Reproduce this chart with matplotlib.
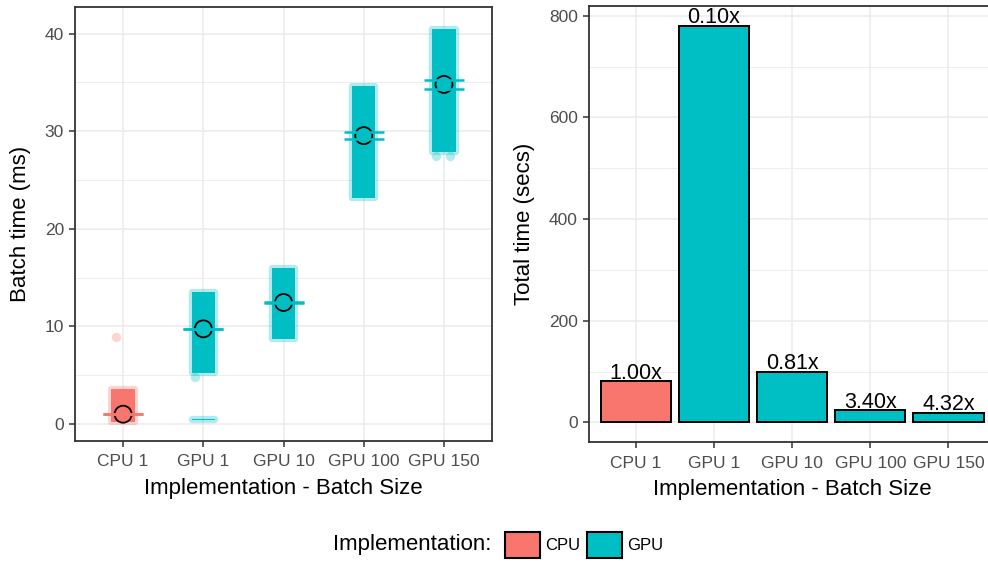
import matplotlib
matplotlib.use("Agg")
import matplotlib.pyplot as plt
from matplotlib.colors import to_rgba
from matplotlib.patches import Patch
from matplotlib.ticker import MultipleLocator

plt.rcParams["font.family"] = ["Liberation Sans", "DejaVu Sans"]

groups = ["CPU 1", "GPU 1", "GPU 10", "GPU 100", "GPU 150"]
impl = ["CPU", "GPU", "GPU", "GPU", "GPU"]

# batch times (ms): dense range of the per-batch measurements
band_group = ["CPU 1", "GPU 1", "GPU 1", "GPU 10", "GPU 100", "GPU 150"]
band_low = [0.15, 0.45, 5.2, 8.7, 23.2, 27.9]
band_high = [3.6, 0.55, 13.5, 16.0, 34.6, 40.5]

# isolated batches outside the dense ranges
stray_group = ["CPU 1", "GPU 1", "GPU 150", "GPU 150"]
stray_y = [8.9, 4.85, 27.5, 27.5]
stray_jitter = [-0.09, -0.11, -0.1, 0.08]

# mean batch time and its confidence interval
mean_ms = [1.0, 9.75, 12.45, 29.55, 34.8]
ci_low = [0.97, 9.72, 12.42, 29.2, 34.35]
ci_high = [1.03, 9.78, 12.48, 29.9, 35.2]

# total run time (secs)
total_secs = [80.6, 780, 99.5, 23.7, 18.65]

colors = {"CPU": "#F8766D", "GPU": "#00BFC4"}
border = "#333333"
gridc = "#EBEBEB"


def style_axes(ax):
    for s in ax.spines.values():
        s.set_color(border)
        s.set_linewidth(1.3)
    ax.set_facecolor("white")
    ax.grid(which="major", color=gridc, linewidth=1.1)
    ax.grid(which="minor", axis="y", color=gridc, linewidth=0.6)
    ax.set_axisbelow(True)
    ax.tick_params(which="major", length=4, width=1.1, color=border,
                   labelsize=12.5, labelcolor="#4D4D4D", pad=4)
    ax.tick_params(axis="x", pad=6)
    ax.tick_params(which="minor", length=0)
    ax.set_xticks(range(len(groups)))
    ax.set_xticklabels(groups)
    ax.set_xlim(-0.6, 4.6)
    ax.set_xlabel("Implementation - Batch Size", fontsize=16, labelpad=6)


fig = plt.figure(figsize=(9.88, 5.63), dpi=100)
ax1 = fig.add_axes([0.0759, 0.2175, 0.4222, 0.7695])
ax2 = fig.add_axes([0.596, 0.2145, 0.4115, 0.7745])

# left: batch times
pos = {g: i for i, g in enumerate(groups)}
for g, lo, hi in zip(band_group, band_low, band_high):
    c = colors[impl[pos[g]]]
    ax1.bar(pos[g], hi - lo, bottom=lo, width=0.29, color=c,
            edgecolor=to_rgba(c, 0.3), linewidth=4.5, joinstyle="round",
            zorder=2)
for g, y, j in zip(stray_group, stray_y, stray_jitter):
    c = colors[impl[pos[g]]]
    ax1.scatter(pos[g] + j, y, s=45, color=c, alpha=0.3, linewidths=0,
                zorder=2)

xs = list(range(len(groups)))
ax1.scatter(xs, mean_ms, s=150, facecolors="none", edgecolors="black",
            linewidths=1.3, zorder=3)
for x, lo, hi, k in zip(xs, ci_low, ci_high, impl):
    ax1.hlines([lo, hi], x - 0.25, x + 0.25, color=colors[k],
               linewidth=1.8, zorder=4)

style_axes(ax1)
ax1.set_ylim(-1.7, 42.7)
ax1.yaxis.set_major_locator(MultipleLocator(10))
ax1.yaxis.set_minor_locator(MultipleLocator(5))
ax1.set_ylabel("Batch time (ms)", fontsize=16, labelpad=10)

# right: total time with speed-up relative to CPU
ax2.bar(xs, total_secs, width=0.9, color=[colors[k] for k in impl],
        edgecolor="black", linewidth=1.4, zorder=2)
for x, v in zip(xs, total_secs):
    ax2.annotate(f"{total_secs[0] / v:.2f}x", (x, v), xytext=(0, 2),
                 textcoords="offset points", ha="center", va="baseline",
                 fontsize=15.5, color="black", zorder=5,
                 annotation_clip=False)

style_axes(ax2)
ax2.set_ylim(-39, 819)
ax2.yaxis.set_major_locator(MultipleLocator(200))
ax2.yaxis.set_minor_locator(MultipleLocator(100))
ax2.set_ylabel("Total time (secs)", fontsize=16, labelpad=10)

# shared legend at the bottom
fig.text(0.337, 0.032, "Implementation:", fontsize=16, ha="left",
         va="center")
handles = [Patch(facecolor=colors[k], edgecolor="black", linewidth=1.5)
           for k in ["CPU", "GPU"]]
fig.legend(handles, ["CPU", "GPU"], ncol=2, loc="center left",
           bbox_to_anchor=(0.511, 0.032), frameon=False, fontsize=12,
           handlelength=2.1, handleheight=2.1, handletextpad=0.3,
           columnspacing=0.4, borderpad=0, borderaxespad=0)

fig.savefig("out.png", dpi=100)
